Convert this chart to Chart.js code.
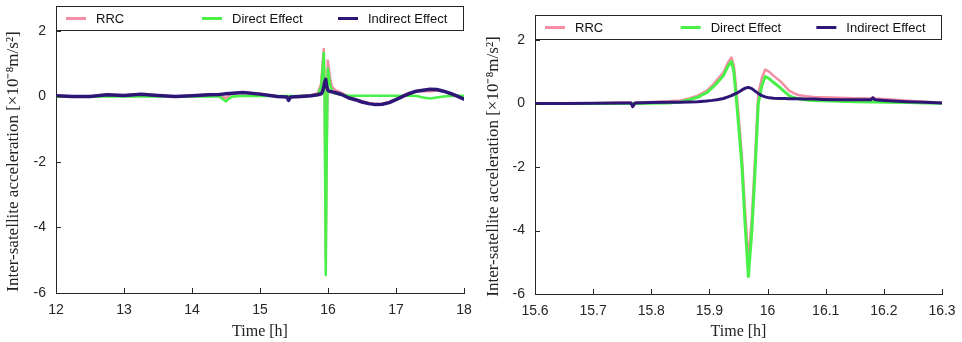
<!DOCTYPE html>
<html>
<head>
<meta charset="utf-8">
<script src="https://cdn.jsdelivr.net/npm/chart.js@4.4.1/dist/chart.umd.min.js"></script>
<style>
  html, body { margin: 0; padding: 0; background: #fff; }
  .panel { position: absolute; top: 0; height: 342px; }
  #fullPanel { left: 0; width: 480px; }
  #zoomPanel { left: 480px; width: 482px; }
</style>
</head>
<body>
<div class="panel" id="fullPanel"><canvas id="fullChart"></canvas></div>
<div class="panel" id="zoomPanel"><canvas id="zoomChart"></canvas></div>
<script>
// whole arc, 12 h to 18 h
const fullTime = [12.0, 12.25, 12.5, 12.75, 13.0, 13.25, 13.5, 13.75, 14.0, 14.25,
  14.4, 14.45, 14.5, 14.55, 14.6, 14.75, 15.0, 15.25, 15.4, 15.42,
  15.45, 15.6, 15.75, 15.85, 15.9, 15.92, 15.938, 15.95, 15.967, 15.98,
  15.997, 16.01, 16.03, 16.06, 16.1, 16.2, 16.3, 16.4, 16.5, 16.6,
  16.7, 16.8, 16.9, 17.0, 17.1, 17.2, 17.3, 17.4, 17.5, 17.6,
  17.7, 17.8, 17.9, 18.0];
const fullRRC = [0.02, 0.0, 0.0, 0.05, 0.03, 0.07, 0.03, 0.0, 0.02, 0.05,
  0.06, 0.0, -0.06, 0.04, 0.1, 0.13, 0.08, 0.01, -0.01, -0.11,
  -0.01, 0.01, 0.04, 0.1, 0.4, 1.0, 1.45, 0.4, -4.95, -1.7,
  1.1, 0.9, 0.55, 0.3, 0.2, 0.11, -0.01, -0.08, -0.15, -0.2,
  -0.23, -0.22, -0.17, -0.08, 0.02, 0.11, 0.17, 0.16, 0.16, 0.18,
  0.16, 0.1, 0.03, -0.06];
const fullDirect = [0.0, 0.0, 0.0, 0.0, 0.0, 0.0, 0.0, 0.0, 0.0, 0.0,
  0.0, -0.08, -0.15, -0.06, 0.0, 0.01, 0.01, 0.01, 0.01, 0.01,
  0.01, 0.01, 0.02, 0.05, 0.3, 0.85, 1.33, 0.0, -5.45, -2.0,
  0.85, 0.7, 0.38, 0.14, 0.09, 0.05, 0.03, 0.02, 0.02, 0.02,
  0.02, 0.02, 0.02, 0.02, 0.02, 0.02, 0.01, -0.03, -0.06, -0.03,
  0.0, 0.01, 0.02, 0.02];
const fullIndirect = [0.02, 0.0, 0.0, 0.05, 0.03, 0.07, 0.03, 0.0, 0.02, 0.05,
  0.06, 0.07, 0.08, 0.09, 0.1, 0.12, 0.07, 0.0, -0.02, -0.12,
  -0.02, 0.0, 0.02, 0.05, 0.08, 0.15, 0.3, 0.42, 0.52, 0.32,
  0.2, 0.17, 0.15, 0.14, 0.12, 0.06, -0.04, -0.1, -0.17, -0.22,
  -0.25, -0.24, -0.19, -0.1, 0.0, 0.09, 0.16, 0.19, 0.22, 0.21,
  0.16, 0.09, 0.01, -0.08];

// close-up around the 16 h event
const zoomTime = [15.6, 15.65, 15.7, 15.75, 15.765, 15.768, 15.772, 15.8, 15.83, 15.85,
  15.865, 15.88, 15.895, 15.905, 15.913, 15.924, 15.932, 15.938, 15.942, 15.947,
  15.952, 15.956, 15.961, 15.967, 15.973, 15.978, 15.984, 15.99, 15.996, 16.003,
  16.01, 16.021, 16.03, 16.037, 16.045, 16.052, 16.067, 16.08, 16.095, 16.123,
  16.15, 16.178, 16.181, 16.185, 16.2, 16.24, 16.27, 16.3];
const zoomRRC = [0.0, 0.0, 0.01, 0.03, 0.03, -0.08, 0.03, 0.05, 0.07, 0.1,
  0.16, 0.25, 0.4, 0.57, 0.75, 0.98, 1.3, 1.45, 1.2, 0.3,
  -0.8, -1.7, -3.3, -4.95, -3.6, -1.9, 0.3, 0.8, 1.07, 1.0,
  0.88, 0.72, 0.55, 0.41, 0.33, 0.27, 0.23, 0.21, 0.2, 0.18,
  0.17, 0.16, 0.2, 0.16, 0.14, 0.09, 0.06, 0.03];
const zoomDirect = [0.0, 0.0, 0.0, 0.0, 0.0, 0.0, 0.0, 0.01, 0.02, 0.05,
  0.12, 0.2, 0.34, 0.5, 0.65, 0.88, 1.18, 1.33, 1.0, 0.0,
  -1.1, -2.0, -3.7, -5.45, -4.0, -2.3, 0.0, 0.55, 0.85, 0.78,
  0.67, 0.51, 0.36, 0.25, 0.19, 0.15, 0.11, 0.1, 0.09, 0.07,
  0.06, 0.05, 0.05, 0.05, 0.04, 0.03, 0.02, 0.01];
const zoomIndirect = [0.0, 0.0, 0.01, 0.02, 0.02, -0.1, 0.02, 0.03, 0.04, 0.04,
  0.05, 0.06, 0.08, 0.1, 0.12, 0.16, 0.21, 0.25, 0.29, 0.33,
  0.38, 0.43, 0.48, 0.51, 0.47, 0.4, 0.32, 0.25, 0.21, 0.18,
  0.17, 0.16, 0.16, 0.15, 0.15, 0.15, 0.14, 0.14, 0.13, 0.12,
  0.12, 0.12, 0.18, 0.12, 0.1, 0.06, 0.04, 0.02];

const fullTicks = [12, 13, 14, 15, 16, 17, 18];
const zoomTicks = [15.6, 15.7, 15.8, 15.9, 16, 16.1, 16.2, 16.3];
const accelTicks = [-6, -4, -2, 0, 2];
const seriesNames = ['RRC', 'Direct Effect', 'Indirect Effect'];
const accelLabel = 'Inter-satellite acceleration [×10⁻⁸m/s²]';

const COLORS = ['rgb(245, 142, 164)', 'rgb(72, 240, 72)', 'rgb(45, 22, 118)'];
const AXIS_COLOR = '#262626';
const SANS = '"Liberation Sans", Arial, Helvetica, sans-serif';
const SERIF = '"Liberation Serif", "Times New Roman", serif';

// MATLAB-style ticks pointing into the plot
const innerTicks = {
  id: 'innerTicks',
  afterDraw(chart) {
    const { ctx, chartArea, scales } = chart;
    ctx.save();
    ctx.strokeStyle = AXIS_COLOR;
    ctx.lineWidth = 1;
    ctx.beginPath();
    scales.x.ticks.forEach(t => {
      const px = Math.round(scales.x.getPixelForValue(t.value)) + 0.5;
      ctx.moveTo(px, chartArea.bottom);
      ctx.lineTo(px, chartArea.bottom - 5);
    });
    scales.y.ticks.forEach(t => {
      const py = Math.round(scales.y.getPixelForValue(t.value)) + 0.5;
      ctx.moveTo(chartArea.left, py);
      ctx.lineTo(chartArea.left + 5, py);
    });
    ctx.stroke();
    ctx.restore();
  }
};

// rotated y label, sitting a little below the middle of the axis
const yLabel = {
  id: 'yLabel',
  afterDraw(chart) {
    const { ctx, chartArea: a } = chart;
    ctx.save();
    ctx.translate(14, (a.top + a.bottom) / 2 + 12);
    ctx.rotate(-Math.PI / 2);
    ctx.font = '17px ' + SERIF;
    ctx.fillStyle = '#222';
    ctx.textAlign = 'center';
    ctx.textBaseline = 'middle';
    ctx.fillText(accelLabel, 0, 0);
    ctx.restore();
  }
};

// legend in a framed strip along the top of the plot
const boxedLegend = {
  id: 'boxedLegend',
  afterDatasetsDraw(chart) {
    const { ctx, chartArea: a } = chart;
    const h = 24;
    const slot = (a.right - a.left) / 3;
    ctx.save();
    ctx.fillStyle = '#fff';
    ctx.fillRect(a.left, a.top, a.right - a.left, h);
    ctx.strokeStyle = AXIS_COLOR;
    ctx.lineWidth = 1;
    ctx.strokeRect(Math.round(a.left) + 0.5, Math.round(a.top) + 0.5, Math.round(a.right - a.left) - 1, h);
    ctx.font = '13px ' + SANS;
    ctx.textBaseline = 'middle';
    chart.data.datasets.forEach((ds, i) => {
      const x = a.left + 10 + i * slot;
      const y = a.top + h / 2 + 0.5;
      ctx.strokeStyle = ds.borderColor;
      ctx.lineWidth = 3;
      ctx.beginPath();
      ctx.moveTo(x, y);
      ctx.lineTo(x + 20, y);
      ctx.stroke();
      ctx.fillStyle = '#111';
      ctx.fillText(ds.label, x + 30, y + 1);
    });
    ctx.restore();
  }
};

function makeDataset(i, xs, ys, width) {
  return {
    label: seriesNames[i],
    data: xs.map((x, k) => ({ x: x, y: ys[k] })),
    borderColor: COLORS[i],
    borderWidth: width,
    pointRadius: 0,
    tension: 0,
    fill: false,
    borderJoinStyle: 'round',
    borderCapStyle: 'round',
    order: 2 - i
  };
}

function renderPanel(canvas, opts) {
  new Chart(canvas, {
    type: 'line',
    data: { datasets: opts.datasets },
    options: {
      responsive: true,
      maintainAspectRatio: false,
      animation: false,
      layout: { padding: { left: 0, right: opts.padRight, top: opts.padTop, bottom: 0 } },
      plugins: { legend: { display: false }, tooltip: { enabled: false } },
      scales: {
        x: {
          type: 'linear',
          min: opts.xMin,
          max: opts.xMax,
          afterBuildTicks: s => { s.ticks = opts.xTicks.map(v => ({ value: v })); },
          afterFit: s => {
            s.height = opts.xAxisHeight;
            s.paddingLeft = 0;
            s.paddingRight = 0;
          },
          grid: { display: false, drawTicks: false },
          border: { display: true, color: AXIS_COLOR, width: 1 },
          ticks: {
            padding: 9,
            maxRotation: 0,
            autoSkip: false,
            color: AXIS_COLOR,
            font: { family: SANS, size: 14 },
            callback: v => String(v)
          },
          title: {
            display: true,
            text: 'Time [h]',
            color: '#222',
            font: { family: SERIF, size: 16 },
            padding: { top: 0, bottom: 1 }
          }
        },
        y: {
          type: 'linear',
          min: -6,
          max: opts.yMax,
          afterBuildTicks: s => { s.ticks = accelTicks.map(v => ({ value: v })); },
          afterFit: s => {
            s.width = opts.yAxisWidth;
            s.paddingTop = 0;
            s.paddingBottom = 0;
          },
          grid: { display: false, drawTicks: false },
          border: { display: true, color: AXIS_COLOR, width: 1 },
          ticks: {
            padding: 10,
            color: AXIS_COLOR,
            font: { family: SANS, size: 14 },
            callback: v => String(v)
          },
          title: { display: false }
        }
      }
    },
    plugins: [boxedLegend, innerTicks, yLabel]
  });
}

renderPanel(document.getElementById('fullChart'), {
  datasets: [
    makeDataset(0, fullTime, fullRRC, 2.5),
    makeDataset(1, fullTime, fullDirect, 2.5),
    makeDataset(2, fullTime, fullIndirect, 3.5)
  ],
  xMin: 12, xMax: 18, yMax: 2.76,
  xTicks: fullTicks,
  padRight: 16, padTop: 6,
  xAxisHeight: 49, yAxisWidth: 56
});

renderPanel(document.getElementById('zoomChart'), {
  datasets: [
    makeDataset(0, zoomTime, zoomRRC, 2.5),
    makeDataset(1, zoomTime, zoomDirect, 3),
    makeDataset(2, zoomTime, zoomIndirect, 3)
  ],
  xMin: 15.6, xMax: 16.3, yMax: 2.79,
  xTicks: zoomTicks,
  padRight: 20, padTop: 15,
  xAxisHeight: 48, yAxisWidth: 55
});
</script>
</body>
</html>
